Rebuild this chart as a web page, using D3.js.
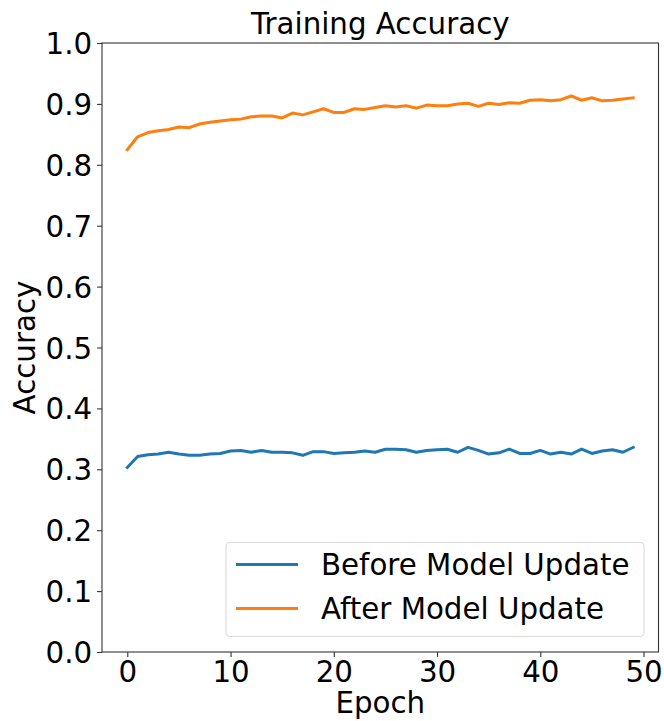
<!DOCTYPE html>
<html>
<head>
<meta charset="utf-8">
<script src="https://cdn.jsdelivr.net/npm/d3@7"></script>
<style>
  html, body { margin: 0; padding: 0; background: #fff; }
  svg { display: block; }
  text { font-family: "DejaVu Sans", sans-serif; fill: #000; }
</style>
</head>
<body>
<svg id="chart" width="664" height="721"></svg>
<script>
const epochs = d3.range(50);
const beforeUpdate = [
  0.303, 0.321, 0.324, 0.325, 0.328, 0.325, 0.323, 0.323, 0.325, 0.326,
  0.330, 0.331, 0.328, 0.331, 0.328, 0.328, 0.327, 0.323, 0.329, 0.329,
  0.326, 0.327, 0.328, 0.330, 0.328, 0.333, 0.333, 0.332, 0.328, 0.331,
  0.332, 0.333, 0.328, 0.336, 0.331, 0.325, 0.327, 0.333, 0.326, 0.326,
  0.331, 0.325, 0.328, 0.325, 0.333, 0.326, 0.330, 0.332, 0.328, 0.336
];
const afterUpdate = [
  0.825, 0.846, 0.853, 0.856, 0.858, 0.862, 0.861, 0.867, 0.870, 0.872,
  0.874, 0.875, 0.879, 0.880, 0.880, 0.877, 0.885, 0.882, 0.887, 0.892,
  0.886, 0.886, 0.892, 0.891, 0.894, 0.897, 0.895, 0.897, 0.893, 0.898,
  0.897, 0.897, 0.900, 0.901, 0.896, 0.901, 0.899, 0.902, 0.901, 0.906,
  0.907, 0.905, 0.907, 0.913, 0.906, 0.910, 0.905, 0.906, 0.908, 0.910
];
const seriesNames = ["Before Model Update", "After Model Update"];
const seriesColors = ["#1f77b4", "#ff7f0e"];
const xTicks = [0, 10, 20, 30, 40, 50];
const yTicks = [0.0, 0.1, 0.2, 0.3, 0.4, 0.5, 0.6, 0.7, 0.8, 0.9, 1.0];
const titleText = "Training Accuracy";
const xLabel = "Epoch";
const yLabel = "Accuracy";

const svg = d3.select("#chart");
const pL = 102, pR = 658.5, pT = 43, pB = 652;
const fs = 29.3;

const x = d3.scaleLinear().domain([-2.45, 51.45]).range([pL, pR]);
const y = d3.scaleLinear().domain([0, 1]).range([pB, pT]);

// lines
const series = [beforeUpdate, afterUpdate];
const line = d3.line().x((d, i) => x(epochs[i])).y(d => y(d));
series.forEach((s, k) => {
  svg.append("path")
    .datum(s)
    .attr("d", line)
    .attr("fill", "none")
    .attr("stroke", seriesColors[k])
    .attr("stroke-width", 3)
    .attr("stroke-linejoin", "round")
    .attr("stroke-linecap", "square");
});

// axes
const xAxis = d3.axisBottom(x).tickValues(xTicks).tickSize(4.9).tickPadding(4).tickFormat(d3.format("d"));
const yAxis = d3.axisLeft(y).tickValues(yTicks).tickSize(4.9).tickPadding(5).tickFormat(d3.format(".1f"));

const gx = svg.append("g").attr("transform", `translate(0,${pB})`).call(xAxis);
const gy = svg.append("g").attr("transform", `translate(${pL},0)`).call(yAxis);
[gx, gy].forEach(g => {
  g.select(".domain").remove();
  g.selectAll(".tick line").attr("stroke", "#333").attr("stroke-width", 1.1);
  g.selectAll(".tick text")
    .attr("font-family", "DejaVu Sans")
    .attr("font-size", fs)
    .attr("fill", "#000");
});
gx.selectAll(".tick text").attr("dy", null).attr("y", 30);
gy.selectAll(".tick text").attr("dy", "0.36em");

// frame
svg.append("rect")
  .attr("x", pL).attr("y", pT)
  .attr("width", pR - pL).attr("height", pB - pT)
  .attr("fill", "none").attr("stroke", "#333").attr("stroke-width", 1.1);

// title & labels
svg.append("text")
  .attr("x", (pL + pR) / 2).attr("y", 34)
  .attr("text-anchor", "middle").attr("font-size", fs)
  .text(titleText);
svg.append("text")
  .attr("x", (pL + pR) / 2).attr("y", 713)
  .attr("text-anchor", "middle").attr("font-size", fs)
  .text(xLabel);
svg.append("text")
  .attr("transform", `translate(35,${(pT + pB) / 2}) rotate(-90)`)
  .attr("text-anchor", "middle").attr("font-size", fs)
  .text(yLabel);

// legend
const lg = svg.append("g");
lg.append("rect")
  .attr("x", 226).attr("y", 542.5)
  .attr("width", 418).attr("height", 94)
  .attr("rx", 4).attr("ry", 4)
  .attr("fill", "#fff").attr("fill-opacity", 0.8)
  .attr("stroke", "#d9d9d9").attr("stroke-width", 1.1);
seriesNames.forEach((name, k) => {
  const ly = 564.5 + k * 44;
  lg.append("line")
    .attr("x1", 236).attr("x2", 298)
    .attr("y1", ly).attr("y2", ly)
    .attr("stroke", seriesColors[k]).attr("stroke-width", 3);
  lg.append("text")
    .attr("x", 321).attr("y", ly).attr("dy", "0.36em")
    .attr("font-size", fs)
    .text(name);
});
</script>
</body>
</html>
